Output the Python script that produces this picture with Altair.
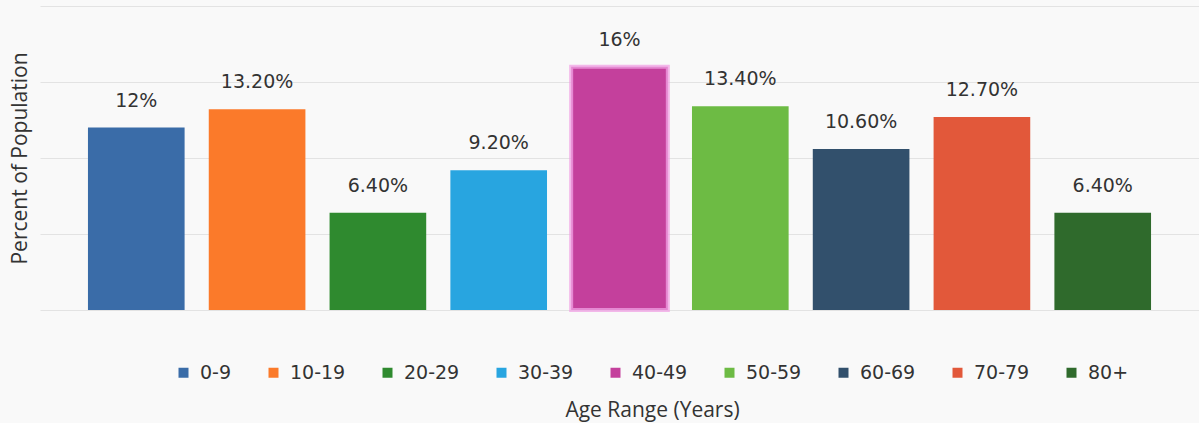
import altair as alt
import pandas as pd

ages = ["0-9", "10-19", "20-29", "30-39", "40-49", "50-59", "60-69", "70-79", "80+"]
percents = [12.0, 13.2, 6.4, 9.2, 16.0, 13.4, 10.6, 12.7, 6.4]
labels = ["12%", "13.20%", "6.40%", "9.20%", "16%", "13.40%", "10.60%", "12.70%", "6.40%"]
colors = ["#3a6ca8", "#fb7a2a", "#2f8a2f", "#28a5e0", "#c4409c",
          "#6dbb44", "#32506c", "#e2583a", "#2f6a2c"]
grid_values = [0, 5, 10, 15, 20]

df = pd.DataFrame({"Age": ages, "Percent": percents, "Label": labels})

x = alt.X("Age:N", sort=ages,
          scale=alt.Scale(paddingInner=0.2, paddingOuter=0.397),
          axis=alt.Axis(labels=False, ticks=False, domain=False, grid=False,
                        title="Age Range (Years)", titleFont="Open Sans",
                        titleFontSize=21, titleFontWeight="normal", titleColor="#333333",
                        titleX=612, titleY=100, titleBaseline="middle", titleAlign="center"))
y = alt.Y("Percent:Q", scale=alt.Scale(domain=[0, 20], nice=False),
          axis=alt.Axis(values=grid_values, labels=False, ticks=False, domain=False,
                        grid=True, gridColor="#e3e3e3", gridWidth=1,
                        title="Percent of Population", titleFont="Open Sans",
                        titleFontSize=21, titleFontWeight="normal", titleColor="#333333",
                        titleX=-20, titleY=152, titleAngle=-90,
                        titleBaseline="middle", titleAlign="center"))

bars = alt.Chart(df).mark_bar().encode(
    x=x,
    y=y,
    color=alt.Color("Age:N", sort=ages,
                    scale=alt.Scale(domain=ages, range=colors),
                    legend=alt.Legend(orient="none", legendX=134, legendY=357,
                                      direction="horizontal", title=None,
                                      symbolType="square", symbolSize=100,
                                      symbolStrokeWidth=0, labelFont="DejaVu Sans",
                                      labelFontSize=19, labelColor="#333333",
                                      labelOffset=7, columnPadding=32)),
    stroke=alt.condition(alt.datum.Age == "40-49", alt.value("#f0a2e4"), alt.value("transparent")),
    strokeWidth=alt.condition(alt.datum.Age == "40-49", alt.value(4), alt.value(0)),
    strokeOpacity=alt.condition(alt.datum.Age == "40-49", alt.value(0.75), alt.value(0)),
)

text = alt.Chart(df).mark_text(baseline="bottom", dy=-17, font="DejaVu Sans",
                               fontSize=19, color="#333333").encode(
    x=alt.X("Age:N", sort=ages),
    y=alt.Y("Percent:Q"),
    text="Label:N",
)

chart = alt.layer(bars, text).properties(
    width=1159, height=304,
    autosize=alt.AutoSizeParams(type="none"),
    padding={"left": 40, "top": 6, "right": 0, "bottom": 113},
    background="#f9f9f9",
).configure_view(stroke=None)

chart.save("out.html", embed_options={"renderer": "svg", "actions": False})
